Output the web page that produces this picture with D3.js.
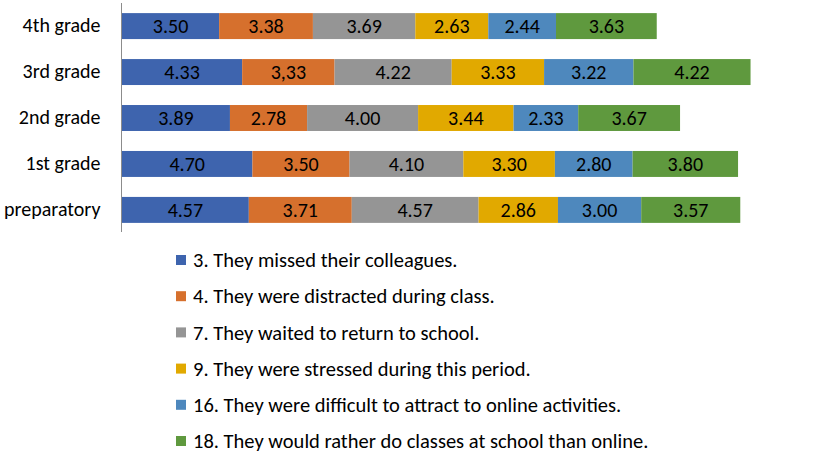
<!DOCTYPE html>
<html>
<head>
<meta charset="utf-8">
<title>Stacked bars by grade</title>
<style>
body { margin: 0; background: #fff; }
text { font-family: Calibri, Carlito, "Noto Sans", sans-serif; fill: #000; }
</style>
</head>
<body>
<script src="https://cdn.jsdelivr.net/npm/d3@7"></script>
<script>
var grades = ["4th grade", "3rd grade", "2nd grade", "1st grade", "preparatory"];
var items = [
  "3. They missed their colleagues.",
  "4. They were distracted during class.",
  "7. They waited to return to school.",
  "9. They were stressed during this period.",
  "16. They were difficult to attract to online activities.",
  "18. They would rather do classes at school than online."
];
var colors = ["#3e64ae", "#d6702d", "#959595", "#e1a900", "#4e88bd", "#5f993e"];
// one row per grade, one value per item
var values = [
  [3.50, 3.38, 3.69, 2.63, 2.44, 3.63],
  [4.33, 3.33, 4.22, 3.33, 3.22, 4.22],
  [3.89, 2.78, 4.00, 3.44, 2.33, 3.67],
  [4.70, 3.50, 4.10, 3.30, 2.80, 3.80],
  [4.57, 3.71, 4.57, 2.86, 3.00, 3.57]
];
// the printed labels (one uses a decimal comma)
var labels = [
  ["3.50", "3.38", "3.69", "2.63", "2.44", "3.63"],
  ["4.33", "3,33", "4.22", "3.33", "3.22", "4.22"],
  ["3.89", "2.78", "4.00", "3.44", "2.33", "3.67"],
  ["4.70", "3.50", "4.10", "3.30", "2.80", "3.80"],
  ["4.57", "3.71", "4.57", "2.86", "3.00", "3.57"]
];

var width = 819, height = 453;
var svg = d3.select("body").append("svg").attr("width", width).attr("height", height);

var x = d3.scaleLinear().domain([0, 24]).range([122, 122 + 24 * 27.75]);
var y = d3.scaleBand().domain(grades).range([3, 233]).paddingInner(0.435).paddingOuter(0.22);

var rows = grades.map(function(g, i) {
  var acc = 0;
  return values[i].map(function(v, j) {
    var seg = { grade: g, x0: acc, x1: acc + v, color: colors[j], label: labels[i][j] };
    acc += v;
    return seg;
  });
});
var segs = d3.merge(rows);

svg.append("g").selectAll("rect").data(segs).enter().append("rect")
  .attr("x", function(d) { return x(d.x0); })
  .attr("width", function(d) { return x(d.x1) - x(d.x0); })
  .attr("y", function(d) { return y(d.grade); })
  .attr("height", y.bandwidth())
  .attr("fill", function(d) { return d.color; });

svg.append("g").selectAll("text").data(segs).enter().append("text")
  .attr("x", function(d) { return (x(d.x0) + x(d.x1)) / 2; })
  .attr("y", function(d) { return y(d.grade) + y.bandwidth() / 2; })
  .attr("dy", "0.35em")
  .attr("text-anchor", "middle")
  .style("font-size", "20px")
  .text(function(d) { return d.label; });

// category axis
var yAxis = d3.axisLeft(y).tickSize(0).tickPadding(21);
var ga = svg.append("g").attr("transform", "translate(121.5,0)").call(yAxis);
ga.select(".domain").attr("stroke", "#8c8c8c").attr("d", "M0,3V232");
ga.selectAll("text").style("font-size", "20px").attr("fill", "#000")
  .style("font-family", 'Calibri, Carlito, "Noto Sans", sans-serif');

// legend
var leg = svg.append("g").selectAll("g").data(items).enter().append("g")
  .attr("transform", function(d, i) { return "translate(176," + (260 + i * 36.2) + ")"; });
leg.append("rect").attr("x", 0).attr("y", -5).attr("width", 10).attr("height", 10)
  .attr("fill", function(d, i) { return colors[i]; });
leg.append("text").attr("x", 17).attr("dy", "0.35em").style("font-size", "20.5px")
  .text(function(d) { return d; });
</script>
</body>
</html>
